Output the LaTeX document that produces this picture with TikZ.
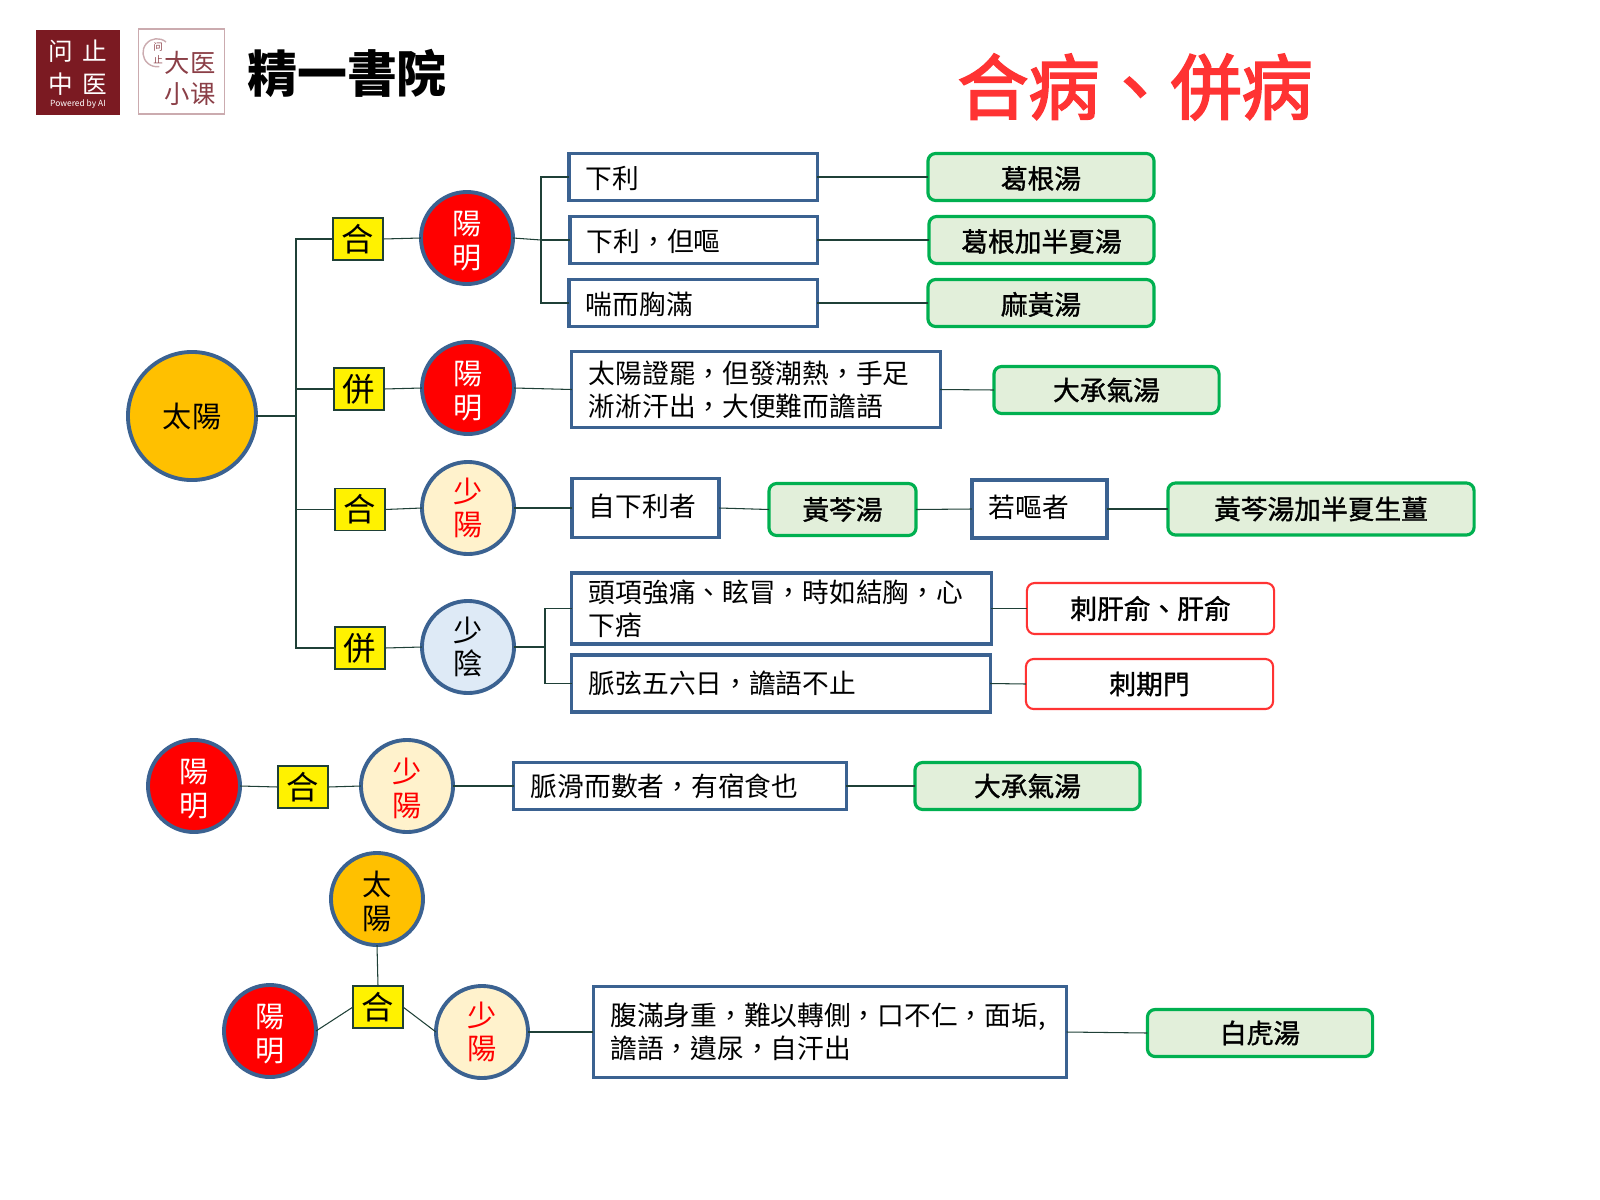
\documentclass[tikz,border=0pt]{standalone}
\usepackage{fontspec}
\setmainfont{Noto Sans CJK TC}
\newfontfamily\scfont{Noto Sans CJK SC}
\newfontfamily\emfont[FakeBold=1.2]{Noto Sans CJK TC}
\newfontfamily\headfont[FakeBold=2.6]{Noto Sans CJK TC}
\definecolor{borderblue}{HTML}{3B6291}
\definecolor{linegreen}{HTML}{1F4037}
\definecolor{resgreen}{HTML}{00B050}
\definecolor{resfill}{HTML}{E2EFDA}
\definecolor{solar}{HTML}{FFC000}
\definecolor{lesser}{HTML}{FFF2CC}
\definecolor{yin}{HTML}{DEEAF6}
\definecolor{titlered}{HTML}{FF3333}
\definecolor{maroon}{HTML}{7B1A22}
\definecolor{rosetext}{HTML}{8B3F47}
\definecolor{roseline}{HTML}{CBABAF}

\begin{document}
\begin{tikzpicture}[
        x=0.01cm, y=-0.01cm,
        disc/.style={draw=borderblue, circle, line width=1.1pt, minimum size=0.92cm, inner sep=0pt, outer sep=0pt, align=center, font=\fontsize{8.3}{9.6}\selectfont},
        sink/.style={text height=18.4pt, text depth=1pt},
        yangming/.style={disc, sink, fill=red, text=white},
        shaoyang/.style={disc, fill=lesser, text=red},
        taiyang/.style={disc, sink, fill=solar},
        shaoyin/.style={disc, fill=yin},
        tag/.style={draw=linegreen, fill=yellow, line width=0.4pt, minimum width=0.5cm, minimum height=0.42cm, inner sep=0pt, outer sep=0pt, font=\fontsize{9.2}{10}\selectfont},
        sign/.style={draw=borderblue, fill=white, line width=0.9pt, inner xsep=0.17cm, inner ysep=0pt, outer sep=0pt, align=left, font=\fontsize{7.6}{9.3}\selectfont},
        herb/.style={draw=resgreen, fill=resfill, line width=0.9pt, rounded corners=2.2pt, inner sep=0pt, outer sep=0pt, font=\emfont\fontsize{7.6}{9.3}\selectfont},
        needle/.style={draw=red!80, fill=white, line width=0.6pt, rounded corners=2.2pt, inner sep=0pt, outer sep=0pt, font=\emfont\fontsize{7.6}{9.3}\selectfont},
        low/.style={text height=7.5pt, text depth=0.9pt},
        high/.style={text height=5.6pt, text depth=0.9pt},
        conn/.style={draw=linegreen, line width=0.3pt}
    ]
        \useasboundingbox (0,0) rectangle (1600,1200);

        % --- logos ---
        \node[fill=maroon, minimum size=0.84cm, inner sep=0pt] (logo_a) at (78,72.5) {};
        \node[text=white, font=\scfont\fontsize{7}{8}\selectfont, inner sep=0pt] (logo_a1) at (78,51) {问\hspace{0.09cm}止};
        \node[text=white, font=\scfont\fontsize{7}{8}\selectfont, inner sep=0pt] (logo_a2) at (78,84) {中\hspace{0.09cm}医};
        \node[text=white, font=\fontsize{2.4}{3}\selectfont, inner sep=0pt] (logo_a3) at (78,104) {Powered by AI};
        \node[draw=roseline, line width=0.5pt, minimum width=0.86cm, minimum height=0.85cm, inner sep=0pt] (logo_b) at (181.5,71.5) {};
        \draw[roseline, line width=0.4pt] (166,42) arc[start angle=50, end angle=280, radius=0.14cm];
        \node[text=rosetext, align=center, font=\scfont\fontsize{2.7}{3.6}\selectfont, inner sep=0pt] (logo_b1) at (158,53) {问\\止};
        \node[text=rosetext, font=\scfont\fontsize{7.2}{8}\selectfont, inner sep=0pt] (logo_b2) at (190,63) {大医};
        \node[text=rosetext, font=\scfont\fontsize{7.2}{8}\selectfont, inner sep=0pt] (logo_b3) at (190,94) {小课};
        \node[font=\bfseries\fontsize{14.2}{16}\selectfont, inner sep=0pt] (logo_c) at (347,73) {精一書院};

        % --- title ---
        \node[text=titlered, font=\headfont\fontsize{20.2}{22}\selectfont, inner sep=0pt] (title) at (1135,87) {合病、併病};

        % --- first group: root and its four branches ---
        \node[disc, fill=solar, minimum size=1.28cm] (root) at (192,416) {太陽};
        \coordinate (trunk) at (296,416);

        \node[tag] (he_a) at (358,239) {合};
        \node[yangming] (ym_a) at (467,238) {陽\\明};
        \coordinate (fork_a) at (541,240);
        \node[sign, low, text width=2.14cm, minimum height=0.47cm] (xiali) at (693,177) {下利};
        \node[sign, low, text width=2.13cm, minimum height=0.47cm] (xialiou) at (693.5,240) {下利，但嘔};
        \node[sign, low, text width=2.14cm, minimum height=0.47cm] (chuan) at (693,303) {喘而胸滿};
        \node[herb, low, minimum width=2.26cm, minimum height=0.47cm] (gegen) at (1041,177) {葛根湯};
        \node[herb, low, minimum width=2.25cm, minimum height=0.47cm] (gegenban) at (1041.5,240) {葛根加半夏湯};
        \node[herb, low, minimum width=2.26cm, minimum height=0.47cm] (mahuang) at (1041,303) {麻黃湯};

        \node[tag] (bing_a) at (359,389) {併};
        \node[yangming] (ym_b) at (468,388) {陽\\明};
        \node[sign, text width=3.34cm, minimum height=0.76cm] (zhengba) at (756,389.5) {太陽證罷，但發潮熱，手足\\淅淅汗出，大便難而譫語};
        \node[herb, minimum width=2.25cm, minimum height=0.47cm] (chengqi_a) at (1106.5,390) {大承氣湯};

        \node[tag] (he_b) at (360,509.5) {合};
        \node[shaoyang] (sy_a) at (468,508) {少\\陽};
        \node[sign, high, text width=1.13cm, minimum height=0.59cm] (zixia) at (645.5,508) {自下利者};
        \node[herb, minimum width=1.47cm, minimum height=0.52cm] (huangqin) at (842.5,509.5) {黃芩湯};
        \node[sign, high, text width=1.01cm, minimum height=0.58cm] (ruou) at (1039.5,509) {若嘔者};
        \node[herb, minimum width=3.06cm, minimum height=0.52cm] (huangqinban) at (1321,509) {黃芩湯加半夏生薑};

        \node[tag] (bing_b) at (360,648) {併};
        \node[shaoyin] (syin) at (468,647) {少\\陰};
        \coordinate (fork_b) at (545,647);
        \node[sign, text width=3.85cm, minimum height=0.71cm] (touxiang) at (781.5,608.5) {頭項強痛、眩冒，時如結胸，心\\下痞};
        \node[sign, text width=3.84cm, minimum height=0.57cm] (maixian) at (781,683.5) {脈弦五六日，譫語不止};
        \node[needle, minimum width=2.47cm, minimum height=0.51cm] (ganshu) at (1150.5,608.5) {刺肝俞、肝俞};
        \node[needle, minimum width=2.47cm, minimum height=0.5cm] (qimen) at (1149.5,684) {刺期門};

        \draw[conn] (root.east) -- (trunk);
        \draw[conn] (trunk) |- (he_a.west);
        \draw[conn] (trunk) |- (bing_a.west);
        \draw[conn] (trunk) |- (he_b.west);
        \draw[conn] (trunk) |- (bing_b.west);

        \draw[conn] (he_a.east) -- (ym_a.west);
        \draw[conn] (ym_a.east) -- (fork_a);
        \draw[conn] (fork_a) |- (xiali.west);
        \draw[conn] (fork_a) |- (xialiou.west);
        \draw[conn] (fork_a) |- (chuan.west);
        \draw[conn] (xiali.east) -- (gegen.west);
        \draw[conn] (xialiou.east) -- (gegenban.west);
        \draw[conn] (chuan.east) -- (mahuang.west);

        \draw[conn] (bing_a.east) -- (ym_b.west);
        \draw[conn] (ym_b.east) -- (zhengba.west);
        \draw[conn] (zhengba.east) -- (chengqi_a.west);

        \draw[conn] (he_b.east) -- (sy_a.west);
        \draw[conn] (sy_a.east) -- (zixia.west);
        \draw[conn] (zixia.east) -- (huangqin.west);
        \draw[conn] (huangqin.east) -- (ruou.west);
        \draw[conn] (ruou.east) -- (huangqinban.west);

        \draw[conn] (bing_b.east) -- (syin.west);
        \draw[conn] (syin.east) -- (fork_b);
        \draw[conn] (fork_b) |- (touxiang.west);
        \draw[conn] (fork_b) |- (maixian.west);
        \draw[conn] (touxiang.east) -- (ganshu.west);
        \draw[conn] (maixian.east) -- (qimen.west);

        % --- second group ---
        \node[yangming] (ym_c) at (194,786) {陽\\明};
        \node[tag] (he_c) at (303,787) {合};
        \node[shaoyang, sink] (sy_b) at (407,786) {少\\陽};
        \node[sign, text width=2.98cm, minimum height=0.47cm] (maihua) at (680,786) {脈滑而數者，有宿食也};
        \node[herb, minimum width=2.25cm, minimum height=0.47cm] (chengqi_b) at (1027.5,786) {大承氣湯};

        \draw[conn] (ym_c.east) -- (he_c.west);
        \draw[conn] (he_c.east) -- (sy_b.west);
        \draw[conn] (sy_b.east) -- (maihua.west);
        \draw[conn] (maihua.east) -- (chengqi_b.west);

        % --- third group ---
        \node[taiyang] (ty_d) at (377,899) {太\\陽};
        \node[tag] (he_d) at (378,1007) {合};
        \node[yangming] (ym_d) at (270,1031) {陽\\明};
        \node[shaoyang] (sy_d) at (482,1032) {少\\陽};
        \node[sign, text width=4.39cm, minimum height=0.91cm] (fuman) at (830,1032) {腹滿身重，難以轉側，口不仁，面垢,\\譫語，遺尿，自汗出};
        \node[herb, minimum width=2.25cm, minimum height=0.47cm] (baihu) at (1260,1033) {白虎湯};

        \draw[conn] (ty_d.south) -- (he_d.north);
        \draw[conn] (he_d.west) -- (ym_d.east);
        \draw[conn] (he_d.east) -- (sy_d.west);
        \draw[conn] (sy_d.east) -- (fuman.west);
        \draw[conn] (fuman.east) -- (baihu.west);

    \end{tikzpicture}
\end{document}
